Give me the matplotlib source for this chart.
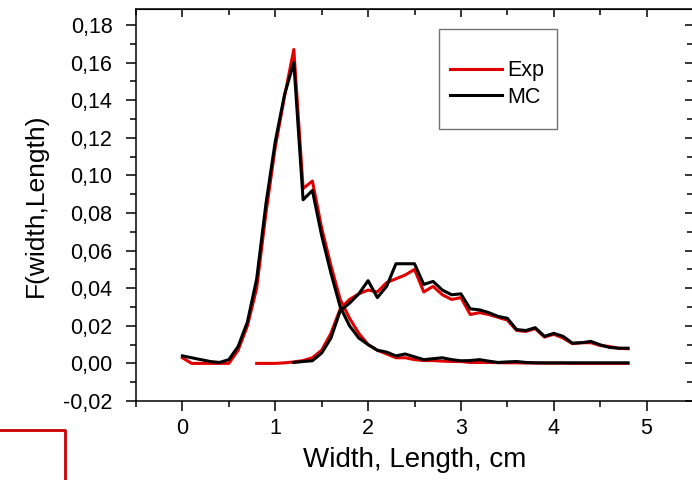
import numpy as np
import matplotlib
matplotlib.use("Agg")
import matplotlib.pyplot as plt
from matplotlib.ticker import FuncFormatter, MultipleLocator
from matplotlib.lines import Line2D
from matplotlib.patches import Rectangle

plt.rcParams["font.family"] = ["Liberation Sans", "DejaVu Sans"]

RED = "#e00000"
BLACK = "#000000"

# width distribution, x = 0.0 ... 4.8 step 0.1
width_x = np.round(np.arange(0, 49) * 0.1, 1)
width_exp = [0.003, 0.000, 0.000, 0.000, 0.000, 0.000, 0.007, 0.020, 0.040, 0.080,
             0.115, 0.142, 0.167, 0.093, 0.097, 0.072, 0.052, 0.034, 0.024, 0.016,
             0.010, 0.007, 0.005, 0.003, 0.003, 0.002, 0.0015, 0.0015, 0.0012, 0.001,
             0.001, 0.0005, 0.0005, 0.0005, 0.0004, 0.0003, 0.0003, 0.0002, 0.0002, 0.0001,
             0.0001, 0.0001, 0.0, 0.0, 0.0, 0.0, 0.0, 0.0, 0.0]
width_mc = [0.004, 0.003, 0.002, 0.001, 0.0005, 0.002, 0.009, 0.022, 0.045, 0.085,
            0.118, 0.143, 0.160, 0.087, 0.092, 0.068, 0.048, 0.030, 0.020, 0.0135,
            0.010, 0.007, 0.006, 0.004, 0.005, 0.0035, 0.002, 0.0025, 0.003, 0.002,
            0.0014, 0.0015, 0.002, 0.0012, 0.0005, 0.0008, 0.001, 0.0005, 0.0003, 0.0003,
            0.0003, 0.0003, 0.0003, 0.0003, 0.0003, 0.0003, 0.0003, 0.0003, 0.0003]

# length distribution
length_exp_x = np.round(np.arange(8, 49) * 0.1, 1)
length_exp = [0.0, 0.0, 0.0, 0.0003, 0.0008, 0.0015, 0.003, 0.007, 0.016, 0.029,
              0.034, 0.037, 0.039, 0.038, 0.043, 0.045, 0.047, 0.050, 0.038, 0.041,
              0.0365, 0.034, 0.035, 0.026, 0.027, 0.026, 0.0245, 0.023, 0.0175, 0.017,
              0.0185, 0.014, 0.0155, 0.0135, 0.0105, 0.011, 0.011, 0.0095, 0.009, 0.008,
              0.0078]
length_mc_x = np.round(np.arange(12, 49) * 0.1, 1)
length_mc = [0.0005, 0.001, 0.0014, 0.0055, 0.0135, 0.028, 0.032, 0.037, 0.044, 0.035,
             0.041, 0.053, 0.053, 0.053, 0.042, 0.0436, 0.039, 0.0365, 0.037, 0.029,
             0.0285, 0.027, 0.025, 0.024, 0.018, 0.0175, 0.019, 0.0144, 0.016, 0.0144,
             0.0108, 0.011, 0.0117, 0.0099, 0.0085, 0.0081, 0.0081]

fig = plt.figure(figsize=(6.92, 4.80), dpi=100)
ax = fig.add_axes([136 / 692, 1 - 401 / 480, 557 / 692, (401 - 9) / 480])

lw = 2.2
ax.plot(width_x, width_exp, color=RED, lw=lw, label="Exp")
ax.plot(length_exp_x, length_exp, color=RED, lw=lw)
ax.plot(width_x, width_mc, color=BLACK, lw=lw, label="MC")
ax.plot(length_mc_x, length_mc, color=BLACK, lw=lw)

ax.set_xlim(-0.5, 5.5)
ax.set_ylim(-0.02, 0.1885)
ax.xaxis.set_major_locator(MultipleLocator(1))
ax.xaxis.set_minor_locator(MultipleLocator(0.5))
ax.yaxis.set_major_locator(MultipleLocator(0.02))
ax.yaxis.set_minor_locator(MultipleLocator(0.01))
ax.yaxis.set_major_formatter(FuncFormatter(lambda v, p: f"{v:.2f}".replace(".", ",").replace("-0,00", "0,00")))

ax.tick_params(which="both", direction="out", top=False, right=False, labelsize=15.5, width=1.1)
ax.tick_params(which="major", length=7)
ax.tick_params(which="minor", length=4)
ax.tick_params(axis="y", pad=10)
ax.tick_params(axis="x", pad=5)
# mirrored inward ticks on top and right
sec_x = ax.secondary_xaxis("top")
sec_x.xaxis.set_major_locator(MultipleLocator(1))
sec_x.xaxis.set_minor_locator(MultipleLocator(0.5))
sec_x.tick_params(which="both", direction="in", labeltop=False, width=1.1)
sec_x.tick_params(which="major", length=6)
sec_x.tick_params(which="minor", length=4)
sec_y = ax.secondary_yaxis("right")
sec_y.yaxis.set_major_locator(MultipleLocator(0.02))
sec_y.yaxis.set_minor_locator(MultipleLocator(0.01))
sec_y.tick_params(which="both", direction="in", labelright=False, width=1.1)
sec_y.tick_params(which="major", length=6)
sec_y.tick_params(which="minor", length=4)
for s in ax.spines.values():
    s.set_linewidth(1.1)

ax.set_xlabel("Width, Length, cm", fontsize=20, labelpad=6)
ax.set_ylabel("F(width,Length)", fontsize=19, labelpad=11)

# legend
fig.add_artist(Rectangle((439 / 692, 1 - 129 / 480), 118 / 692, 100 / 480,
                         transform=fig.transFigure, fill=False, edgecolor="0.45", lw=1.0))
ax.legend(loc="center left", bbox_to_anchor=(450 / 692, 1 - 84 / 480),
          bbox_transform=fig.transFigure, frameon=False, fontsize=15.5,
          handlelength=2.4, handletextpad=0.28, borderpad=0, borderaxespad=0,
          labelspacing=0.25)

# red frame fragment in lower left corner
fig.add_artist(Line2D([0, 65 / 692, 65 / 692], [1 - 430 / 480, 1 - 430 / 480, 0],
                      transform=fig.transFigure, color="#cc0000", lw=2))

fig.savefig("out.png", dpi=100)
